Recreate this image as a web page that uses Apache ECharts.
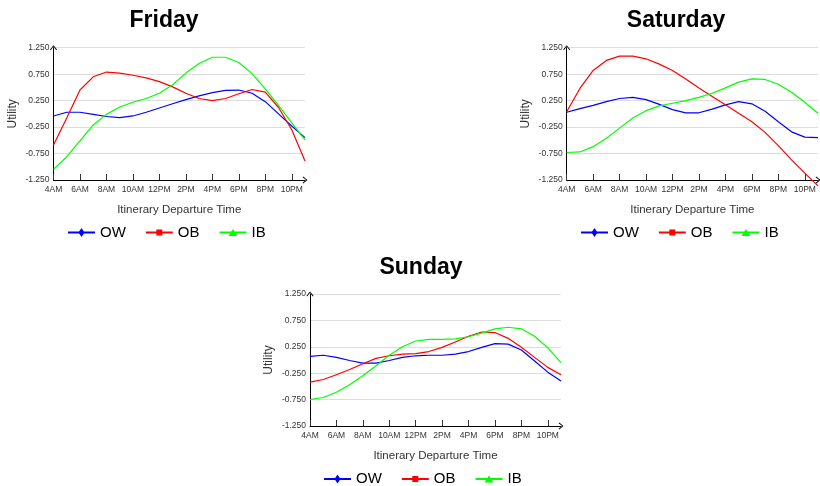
<!DOCTYPE html>
<html>
<head>
<meta charset="utf-8">
<script src="https://cdn.jsdelivr.net/npm/echarts@6/dist/echarts.min.js"></script>
<style>
html,body{margin:0;padding:0;background:#fff;}
#chart{width:820px;height:486px;}
</style>
</head>
<body>
<div id="chart"></div>
<script>
// ---- data ----
const hours = ['4AM','5AM','6AM','7AM','8AM','9AM','10AM','11AM','12PM','1PM','2PM','3PM','4PM','5PM','6PM','7PM','8PM','9PM','10PM','11PM'];
const yTickLabels = ['-1.250','-0.750','-0.250','0.250','0.750','1.250'];
const seriesNames = ['OW','OB','IB'];
const dayTitles = ['Friday','Saturday','Sunday'];

const friOW = [-0.04,0.03,0.03,-0.01,-0.05,-0.07,-0.04,0.03,0.11,0.19,0.27,0.34,0.40,0.445,0.45,0.39,0.23,0.0,-0.23,-0.45];
const friOB = [-0.59,-0.08,0.45,0.70,0.79,0.77,0.73,0.68,0.61,0.51,0.39,0.29,0.25,0.29,0.38,0.46,0.41,0.12,-0.30,-0.89];
const friIB = [-1.05,-0.81,-0.51,-0.21,-0.01,0.13,0.22,0.29,0.39,0.55,0.77,0.95,1.07,1.07,0.97,0.76,0.47,0.16,-0.17,-0.49];

const satOW = [0.03,0.10,0.16,0.23,0.29,0.31,0.27,0.18,0.08,0.02,0.02,0.09,0.17,0.23,0.19,0.05,-0.15,-0.34,-0.44,-0.45];
const satOB = [0.04,0.48,0.82,1.01,1.09,1.09,1.04,0.94,0.82,0.66,0.49,0.33,0.17,0.01,-0.15,-0.35,-0.60,-0.87,-1.12,-1.36];
const satIB = [-0.73,-0.72,-0.62,-0.46,-0.27,-0.08,0.06,0.15,0.20,0.25,0.31,0.39,0.49,0.60,0.66,0.65,0.56,0.41,0.22,0.01];

const sunOW = [0.07,0.09,0.05,-0.01,-0.06,-0.06,-0.01,0.05,0.08,0.09,0.09,0.11,0.16,0.24,0.31,0.30,0.19,-0.02,-0.23,-0.40];
const sunOB = [-0.42,-0.37,-0.28,-0.18,-0.07,0.03,0.08,0.11,0.12,0.16,0.24,0.34,0.45,0.53,0.52,0.41,0.24,0.05,-0.14,-0.28];
const sunIB = [-0.75,-0.71,-0.61,-0.47,-0.30,-0.11,0.09,0.25,0.36,0.39,0.39,0.40,0.44,0.51,0.59,0.62,0.59,0.45,0.23,-0.05];

const dayData = [[friOW,friOB,friIB],[satOW,satOB,satIB],[sunOW,sunOB,sunIB]];

// ---- styling / layout ----
const colors = ['#0000ff','#ff0000','#00ff00'];
const symbols = [
  'path://M0,0 M12,12 M6,1.5 L9,6 L6,10.5 L3,6 Z',
  'path://M0,0 M12,12 M3,3 L9,3 L9,9 L3,9 Z',
  'path://M0,0 M12,12 M6,2.5 L10.5,9.5 L1.5,9.5 Z'
];
const grids = [
  {left:53.5, top:47.7, width:251.5, height:132.3},
  {left:566.7, top:47.7, width:251.3, height:132.3},
  {left:310, top:294, width:251, height:132}
];
const titlePos = [{x:159, y:4},{x:671, y:4},{x:416, y:251}];
const legendPos = [{x:67, y:225},{x:580, y:225},{x:323, y:471.5}];

const FONT = '"Liberation Sans", Arial, sans-serif';
const arrow = 'path://M0,6 L5,0 L10,6 L9,7 L5,1.8 L1,7 Z';

const option = {
  animation: false,
  backgroundColor: '#fff',
  title: [], grid: [], xAxis: [], yAxis: [], legend: [], series: []
};

grids.forEach((g, i) => {
  option.grid.push(Object.assign({containLabel:false}, g));
  option.title.push({
    text: dayTitles[i], left: titlePos[i].x, top: titlePos[i].y, textAlign: 'center',
    textStyle: {fontFamily: FONT, fontWeight: 'bold', fontSize: 23, color: '#000'}
  });
  option.xAxis.push({
    type: 'category', gridIndex: i, data: hours, boundaryGap: false, position: 'bottom',
    name: 'Itinerary Departure Time', nameLocation: 'middle', nameGap: 24,
    nameTextStyle: {fontFamily: FONT, fontSize: 11.5, color: '#333'},
    axisLine: {show: true, onZero: false, lineStyle: {color: '#000', width: 1}, symbol: ['none', arrow], symbolSize: [7, 5]},
    axisTick: {show: true, inside: true, length: 6, interval: 1, lineStyle: {color: '#333'}},
    axisLabel: {interval: 1, fontFamily: FONT, fontSize: 8.5, color: '#333', margin: 5, hideOverlap: false},
    splitLine: {show: false}
  });
  // visible category axis for tick labels and grid lines
  option.yAxis.push({
    type: 'category', gridIndex: i, data: yTickLabels, boundaryGap: false, position: 'left',
    name: 'Utility', nameLocation: 'middle', nameGap: 35,
    nameTextStyle: {fontFamily: FONT, fontSize: 12, color: '#333'},
    axisLine: {show: true, onZero: false, lineStyle: {color: '#000', width: 1}, symbol: ['none', arrow], symbolSize: [7, 5]},
    axisTick: {show: false},
    axisLabel: {interval: 0, fontFamily: FONT, fontSize: 8.5, color: '#333', margin: 4},
    splitLine: {show: true, interval: 0, lineStyle: {color: '#dddddd', width: 1}}
  });
  // hidden value axis that carries the data
  option.yAxis.push({
    type: 'value', gridIndex: i, min: -1.25, max: 1.25, show: false, position: 'left'
  });
  option.legend.push({
    data: seriesNames, left: legendPos[i].x, top: legendPos[i].y, padding: 0,
    itemWidth: 27, itemHeight: 15, itemGap: 19,
    textStyle: {fontFamily: FONT, fontSize: 15, color: '#000'},
    selectedMode: false
  });
  seriesNames.forEach((name, k) => {
    option.series.push({
      type: 'line', name: name, xAxisIndex: i, yAxisIndex: 2 * i + 1,
      data: dayData[i][k], showSymbol: false, symbol: symbols[k], symbolSize: 12,
      clip: false, smooth: false,
      lineStyle: {color: colors[k], width: 1.2},
      itemStyle: {color: colors[k]},
      emphasis: {disabled: true}
    });
  });
});

const chart = echarts.init(document.getElementById('chart'), null, {renderer: 'canvas'});
chart.setOption(option);
</script>
</body>
</html>
